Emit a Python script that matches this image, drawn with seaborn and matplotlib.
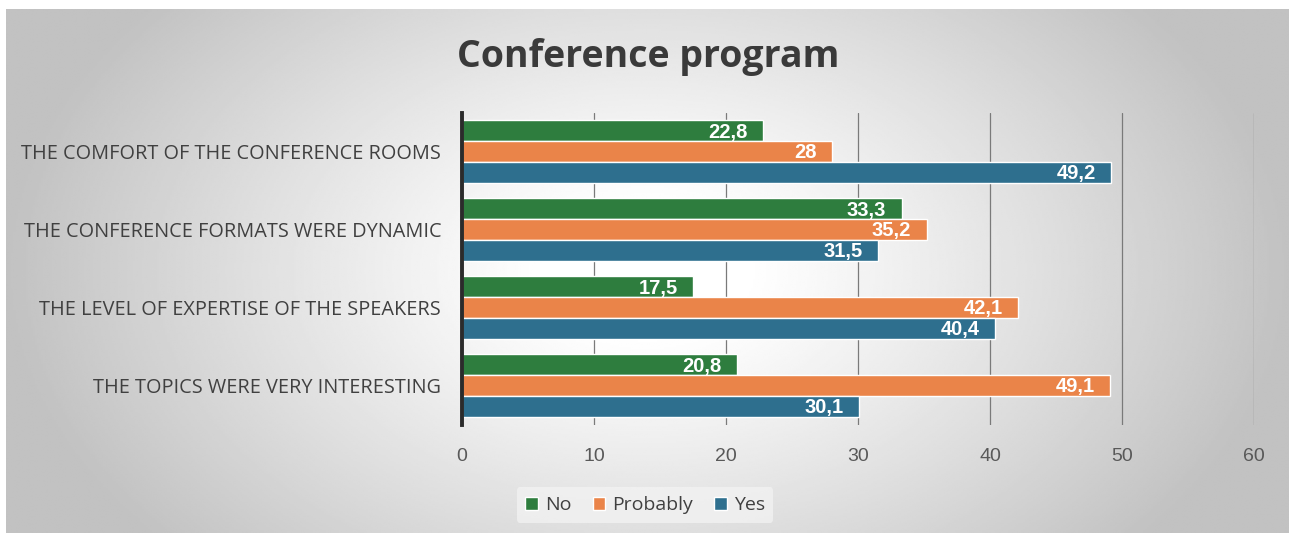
import numpy as np
import pandas as pd
import matplotlib
matplotlib.use('Agg')
import matplotlib.pyplot as plt
import seaborn as sns

# data
categories = [
    'THE COMFORT OF THE CONFERENCE ROOMS',
    'THE CONFERENCE FORMATS WERE DYNAMIC',
    'THE LEVEL OF EXPERTISE OF THE SPEAKERS',
    'THE TOPICS WERE VERY INTERESTING',
]
answers = ['No', 'Probably', 'Yes']
no_values = [22.8, 33.3, 17.5, 20.8]
probably_values = [28.0, 35.2, 42.1, 49.1]
yes_values = [49.2, 31.5, 40.4, 30.1]
x_ticks = [0, 10, 20, 30, 40, 50, 60]

colors = ['#2e7d3e', '#ea8449', '#2e6f8e']

df = pd.DataFrame({
    'category': categories * 3,
    'answer': ['No'] * 4 + ['Probably'] * 4 + ['Yes'] * 4,
    'value': no_values + probably_values + yes_values,
})

sns.set_theme(style='white')
plt.rcParams['font.family'] = ['Open Sans', 'DejaVu Sans']

W, H = 1289, 533
fig = plt.figure(figsize=(W / 100, H / 100), dpi=100)
fig.patch.set_facecolor('white')

# radial grey background
bg = fig.add_axes([6 / W, 0, (W - 6) / W, (H - 9) / H], zorder=0)
gx, gy = np.meshgrid(np.linspace(-1, 1, 600), np.linspace(-1, 1, 300))
r = np.sqrt((gx / 1.0) ** 2 + (gy / 1.6) ** 2)
shade = 1.0 - 0.24 * np.clip((r - 0.15) / 0.85, 0, 1) ** 1.1
bg.imshow(shade, cmap='gray', vmin=0, vmax=1, aspect='auto',
          extent=[0, 1, 0, 1], interpolation='bilinear')
bg.axis('off')

ax = fig.add_axes([462 / W, 108.5 / H, 792 / W, 312 / H], zorder=1)
ax.patch.set_alpha(0)

sns.barplot(data=df, y='category', x='value', hue='answer', order=categories,
            hue_order=answers, palette=colors, orient='h', width=0.8,
            saturation=1, ax=ax, zorder=3)

ax.set_xlim(0, 60)
ax.set_ylim(3.5, -0.5)
ax.set_xticks(x_ticks)
ax.set_xticklabels([str(t) for t in x_ticks], fontsize=14, color='#595959',
                   family=['Liberation Sans Narrow', 'Liberation Sans'])
ax.tick_params(axis='x', length=0, pad=17)
ax.tick_params(axis='y', length=0, pad=15, labelsize=14.3, labelcolor='#404040')
ax.set_xlabel('')
ax.set_ylabel('')
ax.grid(axis='x', color='#7a7a7a', linewidth=0.9, zorder=0)
for side in ['top', 'right', 'bottom']:
    ax.spines[side].set_visible(False)
ax.spines['left'].set_color('#2b2b2b')
ax.spines['left'].set_linewidth(2.8)
ax.spines['left'].set_zorder(5)

# value labels inside the bar ends
for container in ax.containers:
    for patch in container:
        w = patch.get_width()
        label = f'{w:g}'.replace('.', ',')
        ax.annotate(label, (w, patch.get_y() + patch.get_height() / 2),
                    xytext=(-11, -1), textcoords='offset points',
                    ha='right', va='center', color='white', fontsize=14.5,
                    fontweight='bold', family=['Liberation Sans', 'DejaVu Sans'],
                    zorder=6)

handles, labels = ax.get_legend_handles_labels()
ax.legend_.remove()
leg = fig.legend(handles, labels, loc='center', bbox_to_anchor=(645 / W, 1 - 505 / H),
                 ncol=3, frameon=True, fontsize=14, handlelength=0.65, handleheight=0.65,
                 handletextpad=0.35, columnspacing=1.1, borderpad=0.45)
leg.get_frame().set_facecolor('#f4f4f4')
leg.get_frame().set_edgecolor('none')
leg.get_frame().set_alpha(0.7)
for t in leg.get_texts():
    t.set_color('#404040')

fig.text(648 / W, 1 - 57 / H, 'Conference program', ha='center', va='center',
         fontsize=27, fontweight='bold', color='#3a3a3a')

fig.savefig('out.png', dpi=100)
